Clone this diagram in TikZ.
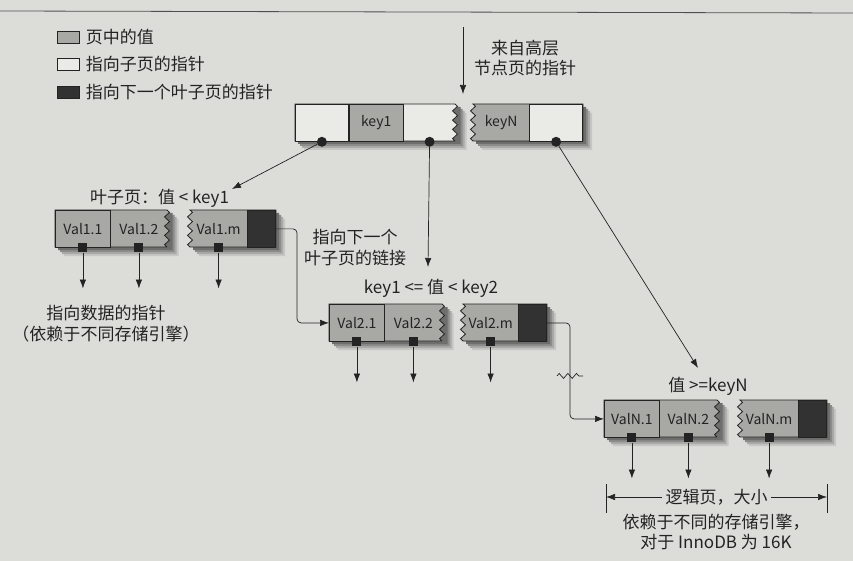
\documentclass[tikz,border=0pt]{standalone}
\usepackage{fontspec}
\setmainfont{Noto Sans CJK SC}
\usetikzlibrary{arrows.meta,calc,positioning,decorations.pathmorphing}
\definecolor{pagebg}{RGB}{220,220,217}
\definecolor{valgray}{RGB}{168,168,164}
\definecolor{ptrwhite}{RGB}{234,234,231}
\definecolor{nextdark}{RGB}{50,50,50}
\definecolor{ink}{RGB}{35,35,35}
\definecolor{dropA}{RGB}{198,198,196}
\definecolor{dropB}{RGB}{170,170,168}
\definecolor{dropC}{RGB}{140,140,138}
\definecolor{dropD}{RGB}{110,110,108}
\tikzset{
	cell/.style={draw=ink,thick,minimum height=37pt,inner sep=0pt,text=ink,font=\fontsize{14}{16}\selectfont},
	valcell/.style={cell,fill=valgray},
	ptrcell/.style={cell,fill=ptrwhite},
	nextcell/.style={cell,fill=nextdark},
	celltext/.style={text=ink,font=\fontsize{14}{16}\selectfont},
	halfpage/.style={draw=ink,thick},
	zz/.style={decoration={zigzag,segment length=9.25pt,amplitude=2.5pt}},
	dot/.style={circle,fill=ink,inner sep=0pt,minimum size=10pt},
	sq/.style={rectangle,fill=ink,inner sep=0pt,minimum size=9pt},
	lbl/.style={text=ink,font=\fontsize{17}{21}\selectfont,align=center},
	ptr/.style={draw=ink,line width=0.7pt,-{Latex[length=9pt,width=6.5pt]}},
}
\begin{document}
\begin{tikzpicture}[x=1pt,y=-1pt]
	\useasboundingbox (0,0) rectangle (853,561);
	\fill[pagebg] (0,0) rectangle (853,561);
	\draw[ink!80,line width=0.8pt] (0,11) -- (853,13);

	% page shadows, right and below
	\fill[dropA] (304,113) rectangle (466.5,150) (482,113) rectangle (592,150)
		(64,219) rectangle (178.5,256) (199,219) rectangle (285,256)
		(338,313) rectangle (453.5,350) (472,313) rectangle (556,350)
		(613,409) rectangle (728.5,446) (749,409) rectangle (836,446);
	\fill[dropB] (302,111) rectangle (464.5,148) (480,111) rectangle (590,148)
		(62,217) rectangle (176.5,254) (197,217) rectangle (283,254)
		(336,311) rectangle (451.5,348) (470,311) rectangle (554,348)
		(611,407) rectangle (726.5,444) (747,407) rectangle (834,444);
	\fill[dropC] (300,109) rectangle (462.5,146) (478,109) rectangle (588,146)
		(60,215) rectangle (174.5,252) (195,215) rectangle (281,252)
		(334,309) rectangle (449.5,346) (468,309) rectangle (552,346)
		(609,405) rectangle (724.5,442) (745,405) rectangle (832,442);
	\fill[dropD] (298,107) rectangle (460.5,144) (476,107) rectangle (586,144)
		(58,213) rectangle (172.5,250) (193,213) rectangle (279,250)
		(332,307) rectangle (447.5,344) (466,307) rectangle (550,344)
		(607,403) rectangle (722.5,440) (743,403) rectangle (830,440);

	% legend
	\node (lg1) at (68,37) [valcell,minimum width=22pt,minimum height=12pt] {};
	\node[lbl,right=3pt of lg1] (lt1) {页中的值};
	\node (lg2) at (68,64.5) [ptrcell,minimum width=22pt,minimum height=12pt] {};
	\node[lbl,right=3pt of lg2] (lt2) {指向子页的指针};
	\node (lg3) at (68,92) [nextcell,minimum width=22pt,minimum height=12pt] {};
	\node[lbl,right=3pt of lg3] (lt3) {指向下一个叶子页的指针};

	% node page
	\path[halfpage,fill=ptrwhite] (295,104) -- (455,104) decorate[zz]{-- (455,141)} -- (295,141) -- cycle;
	\node (t1) at (295,104) [ptrcell,minimum width=53pt,anchor=north west] {};
	\node (key1) at (t1.north east) [valcell,minimum width=54pt,anchor=north west] {key1};
	\path[halfpage,fill=valgray] (583,104) -- (473,104) decorate[zz]{-- (473,141)} -- (583,141) -- cycle;
	\node (t4) at (583,104) [ptrcell,minimum width=53pt,anchor=north east] {};
	\node (keyN) at ($(473,122.5)!0.5!(t4.west)$) [celltext] {keyN};
	\node (d1) at (t1.south) [dot] {};
	\node (d2) at ($(key1.south east)+(26,0)$) [dot] {};
	\node (d3) at (t4.south) [dot] {};

	\coordinate (src) at (463,27);
	\coordinate (top) at (463,94);
	\draw[ptr] (src) -- (top);
	\node (from) at (525,58) [lbl,font=\fontsize{17}{20.5}\selectfont] {来自高层\\节点页的指针};

	% leaf 1
	\path[halfpage,fill=valgray] (55,210) -- (167,210) decorate[zz]{-- (167,247)} -- (55,247) -- cycle;
	\node (v11) at (55,210) [valcell,minimum width=55pt,anchor=north west] {Val1.1};
	\node (v12) at ($(v11.east)!0.5!(167,228.5)$) [celltext] {Val1.2};
	\path[halfpage,fill=valgray] (276,210) -- (190,210) decorate[zz]{-- (190,247)} -- (276,247) -- cycle;
	\node (n1) at (276,210) [nextcell,minimum width=28pt,anchor=north east] {};
	\node (v1m) at ($(190,228.5)!0.5!(n1.west)$) [celltext] {Val1.m};
	\node (s11) at (v11.south) [sq] {};
	\node (s12) at (v12 |- v11.south) [sq] {};
	\node (s1m) at (v1m |- v11.south) [sq] {};
	\coordinate[below=36pt of s11] (e11);
	\coordinate[below=36pt of s12] (e12);
	\coordinate[below=36pt of s1m] (e1m);
	\draw[ptr] (s11) -- (e11);
	\draw[ptr] (s12) -- (e12);
	\draw[ptr] (s1m) -- (e1m);
	\node (lbl1) at (159.5,198) [lbl] {叶子页：值 < key1};
	\coordinate (tip1) at (232,189);
	\draw[ptr] (d1) -- (tip1);
	\node (data) at (106,324) [lbl] {指向数据的指针\\（依赖于不同存储引擎）};

	% leaf 2
	\path[halfpage,fill=valgray] (329,304) -- (442,304) decorate[zz]{-- (442,341)} -- (329,341) -- cycle;
	\node (v21) at (329,304) [valcell,minimum width=55pt,anchor=north west] {Val2.1};
	\node (v22) at ($(v21.east)!0.5!(442,322.5)$) [celltext] {Val2.2};
	\path[halfpage,fill=valgray] (547,304) -- (463,304) decorate[zz]{-- (463,341)} -- (547,341) -- cycle;
	\node (n2) at (547,304) [nextcell,minimum width=28pt,anchor=north east] {};
	\node (v2m) at ($(463,322.5)!0.5!(n2.west)$) [celltext] {Val2.m};
	\node (s21) at (v21.south) [sq] {};
	\node (s22) at (v22 |- v21.south) [sq] {};
	\node (s2m) at (v2m |- v21.south) [sq] {};
	\coordinate[below=36pt of s21] (e21);
	\coordinate[below=36pt of s22] (e22);
	\coordinate[below=36pt of s2m] (e2m);
	\draw[ptr] (s21) -- (e21);
	\draw[ptr] (s22) -- (e22);
	\draw[ptr] (s2m) -- (e2m);
	\node (lbl2) at (431,288) [lbl] {key1 <= 值 < key2};
	\coordinate (tip2) at (428,267);
	\draw[ptr] (d2) -- (tip2);
	\draw[ptr,rounded corners=4pt] (n1.east) -- ++(21,0) |- (v21.west);
	\node (lnk) at (355,248) [lbl] {指向下一个\\叶子页的链接};

	% leaf N
	\path[halfpage,fill=valgray] (604,400) -- (717,400) decorate[zz]{-- (717,437)} -- (604,437) -- cycle;
	\node (vN1) at (604,400) [valcell,minimum width=55pt,anchor=north west] {ValN.1};
	\node (vN2) at ($(vN1.east)!0.5!(717,418.5)$) [celltext] {ValN.2};
	\path[halfpage,fill=valgray] (827,400) -- (740,400) decorate[zz]{-- (740,437)} -- (827,437) -- cycle;
	\node (nN) at (827,400) [nextcell,minimum width=28pt,anchor=north east] {};
	\node (vNm) at ($(740,418.5)!0.5!(nN.west)$) [celltext] {ValN.m};
	\node (sN1) at (vN1.south) [sq] {};
	\node (sN2) at (vN2 |- vN1.south) [sq] {};
	\node (sNm) at (vNm |- vN1.south) [sq] {};
	\coordinate[below=36pt of sN1] (eN1);
	\coordinate[below=36pt of sN2] (eN2);
	\coordinate[below=36pt of sNm] (eNm);
	\draw[ptr] (sN1) -- (eN1);
	\draw[ptr] (sN2) -- (eN2);
	\draw[ptr] (sNm) -- (eNm);
	\node (lblN) at (708,386) [lbl] {值 >=keyN};
	\coordinate (tip3) at (698,368);
	\draw[ptr] (d3) -- (tip3);
	\draw[ptr,rounded corners=4pt] (n2.east) -- ++(23,0) |- (vN1.west);
	\coordinate (brk) at ($(n2.east)+(23,53)$);
	\draw[ink,line width=0.7pt,decorate,decoration={zigzag,segment length=8.67pt,amplitude=2.5pt}] ($(brk)+(-13,0)$) -- ($(brk)+(13,0)$);

	% page size
	\coordinate (dl) at (606,497);
	\coordinate (dr) at (827,497);
	\draw[ink,line width=0.7pt] ($(dl)+(0,-13)$) -- ($(dl)+(0,16)$);
	\draw[ink,line width=0.7pt] ($(dr)+(0,-13)$) -- ($(dr)+(0,16)$);
	\node (size) at ($(dl)!0.5!(dr)$) [lbl] {逻辑页，大小};
	\draw[ptr] (size) -- (dl);
	\draw[ptr] (size) -- (dr);
	\node (engine) at (716,532) [lbl,font=\fontsize{17}{20}\selectfont] {依赖于不同的存储引擎，\\对于 InnoDB 为 16K};
\end{tikzpicture}
\end{document}
